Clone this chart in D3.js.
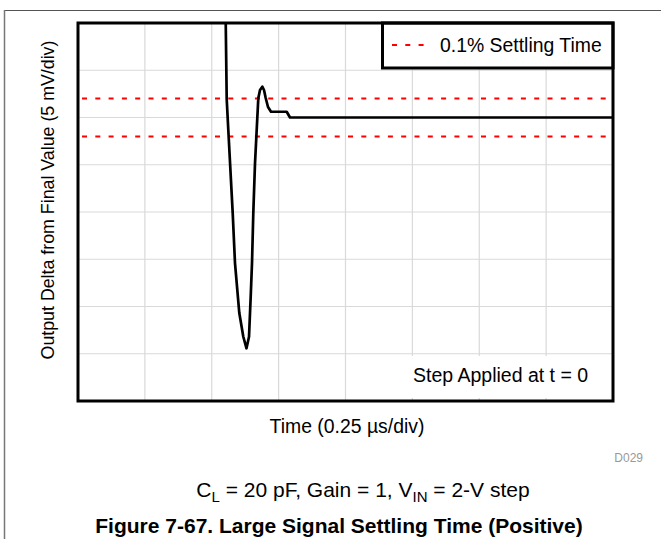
<!DOCTYPE html>
<html><head><meta charset="utf-8">
<script src="https://cdn.jsdelivr.net/npm/d3@7"></script>
<style>body{margin:0;background:#fff}svg{display:block}text{font-family:"Liberation Sans",Arial,sans-serif;fill:#000}</style>
</head><body><div id="c"></div>
<script>
// time in µs, output delta in mV
const timeUs = [0.5518,0.5559,0.5619,0.5783,0.5869,0.603,0.618,0.6299,0.6393,0.6456,0.6505,0.6553,0.6617,0.668,0.674,0.6804,0.689,0.6953,0.7017,0.7103,0.7215,0.7802,0.7925,2.0];
const deltaMv = [11.06,1.96,-1.32,-10.1,-15.4,-20.69,-23.2,-24.42,-23.2,-18.96,-15.4,-10.14,-4.85,-1.32,2.03,2.91,3.26,2.91,2.06,1.11,0.61,0.61,0,0];
const settleBand = [2, -2];
const xTicks = [0,0.25,0.5,0.75,1,1.25,1.5,1.75,2];
const yTicks = [10,5,0,-5,-10,-15,-20,-25,-30];
const legendLabel = "0.1% Settling Time";
const noteLabel = "Step Applied at t = 0";

const W=661,H=539;
const svg=d3.select("#c").append("svg").attr("width",W).attr("height",H);
const L=78,R=613,T=23,B=401;
const x=d3.scaleLinear().domain([0,2]).range([L,R]);
const y=d3.scaleLinear().domain([-30,10]).range([B,T]);

// outer frame
svg.append("line").attr("x1",4).attr("x2",W).attr("y1",10.5).attr("y2",10.5).attr("stroke","#555").attr("stroke-width",1);
svg.append("line").attr("x1",4.5).attr("x2",4.5).attr("y1",10).attr("y2",H).attr("stroke","#777").attr("stroke-width",1.5);

// grid
const g=svg.append("g");
g.selectAll(".vx").data(xTicks.slice(1,-1)).join("line").attr("x1",d=>x(d)).attr("x2",d=>x(d)).attr("y1",T).attr("y2",B).attr("stroke","#d9d9d9").attr("stroke-width",1.2);
g.selectAll(".hy").data(yTicks.slice(1,-1)).join("line").attr("x1",L).attr("x2",R).attr("y1",d=>y(d)).attr("y2",d=>y(d)).attr("stroke","#d9d9d9").attr("stroke-width",1.2);

svg.append("defs").append("clipPath").attr("id","clip").append("rect").attr("x",L).attr("y",T).attr("width",R-L).attr("height",B-T);

// settling band
svg.selectAll(".band").data(settleBand).join("line").attr("x1",L+4).attr("x2",R).attr("y1",d=>y(d)).attr("y2",d=>y(d))
  .attr("stroke","#ff0000").attr("stroke-width",2).attr("stroke-dasharray","5,8.3");

// curve
const pts=timeUs.map((t,i)=>[t,deltaMv[i]]);
svg.append("path").datum(pts).attr("clip-path","url(#clip)").attr("fill","none").attr("stroke","#000").attr("stroke-width",2.7).attr("stroke-linejoin","round")
  .attr("d",d3.line().x(d=>x(d[0])).y(d=>y(d[1])));

// note box (white, no border)
svg.append("rect").attr("x",405).attr("y",356).attr("width",R-405).attr("height",42).attr("fill","#fff");
svg.append("text").attr("x",413).attr("y",382).attr("font-size",19.5).text(noteLabel);

// legend
svg.append("rect").attr("x",382.5).attr("y",T).attr("width",R-382.5).attr("height",45).attr("fill","#fff").attr("stroke","#000").attr("stroke-width",3);
svg.append("line").attr("x1",392).attr("x2",430).attr("y1",45).attr("y2",45).attr("stroke","#ff0000").attr("stroke-width",2).attr("stroke-dasharray","5,8.3");
svg.append("text").attr("x",440).attr("y",52).attr("font-size",19.4).text(legendLabel);

// plot border
svg.append("rect").attr("x",L).attr("y",T).attr("width",R-L).attr("height",B-T).attr("fill","none").attr("stroke","#000").attr("stroke-width",3);

// axis labels
svg.append("text").attr("transform","translate(53.5,200) rotate(-90)").attr("text-anchor","middle").attr("font-size",17.8).text("Output Delta from Final Value (5 mV/div)");
svg.append("text").attr("x",347).attr("y",433).attr("text-anchor","middle").attr("font-size",19.4).text("Time (0.25 \u00b5s/div)");
svg.append("text").attr("x",643).attr("y",462).attr("text-anchor","end").attr("font-size",12).style("fill","#999").text("D029");

// subtitle
const st=svg.append("text").attr("x",363).attr("y",497).attr("text-anchor","middle").attr("font-size",21);
st.append("tspan").text("C");
st.append("tspan").attr("font-size",15).attr("dy",5).text("L");
st.append("tspan").attr("dy",-5).text(" = 20 pF, Gain = 1, V");
st.append("tspan").attr("font-size",15).attr("dy",5).text("IN");
st.append("tspan").attr("dy",-5).text(" = 2-V step");

svg.append("text").attr("x",339).attr("y",533).attr("text-anchor","middle").attr("font-size",21).attr("font-weight","bold").text("Figure 7-67. Large Signal Settling Time (Positive)");
</script></body></html>
